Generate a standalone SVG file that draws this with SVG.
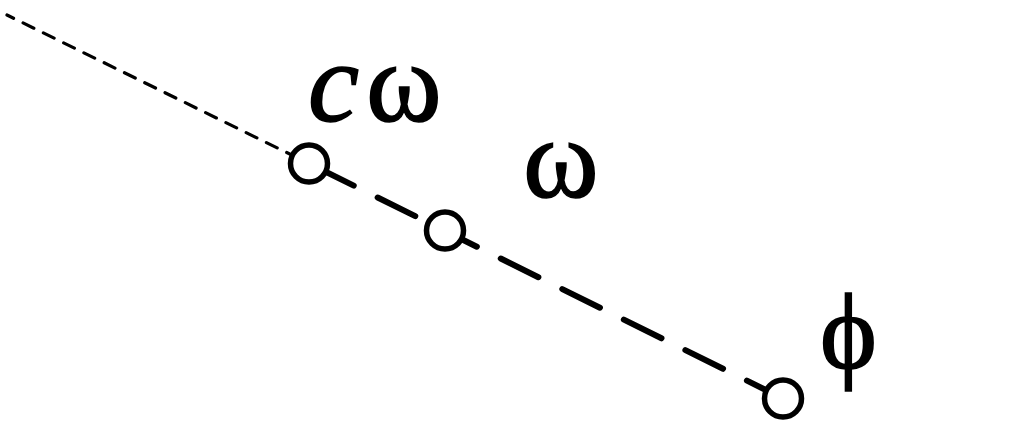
<svg xmlns="http://www.w3.org/2000/svg" width="1015" height="426" viewBox="0 0 1015 426">
  <style>
    .node { fill: #ffffff; stroke: #000000; stroke-width: 5.5; }
    .thin { fill: none; stroke: #000000; stroke-width: 3.2; stroke-linecap: round; stroke-dasharray: 12 10.6; stroke-dashoffset: 4.7; }
    .thick { fill: none; stroke: #000000; stroke-width: 6; stroke-linecap: round; stroke-dasharray: 42 26.7; }
    .lbl { font-family: "Liberation Serif", "DejaVu Serif", serif; font-size: 115px; fill: #000000; stroke: #000000; stroke-width: 1.6; }
    .it { font-style: italic; }
  </style>
  <rect width="1015" height="426" fill="#ffffff"/>
  <g id="connectors">
    <line class="thin" x1="7" y1="15" x2="309" y2="163.5"/>
    <line class="thick" x1="316.1" y1="167" x2="783" y2="398.5"/>
  </g>
  <g id="node-cw">
    <circle class="node" cx="309" cy="163.5" r="18.5"/>
    <text class="lbl" y="121"><tspan class="it" x="308">c</tspan><tspan x="366">ω</tspan></text>
  </g>
  <g id="node-w">
    <circle class="node" cx="445" cy="230.5" r="18.5"/>
    <text class="lbl" x="523" y="197">ω</text>
  </g>
  <g id="node-phi">
    <circle class="node" cx="783" cy="398.5" r="18.5"/>
    <text class="lbl" x="820" y="368" style="font-size:108px">ϕ</text>
  </g>
</svg>
